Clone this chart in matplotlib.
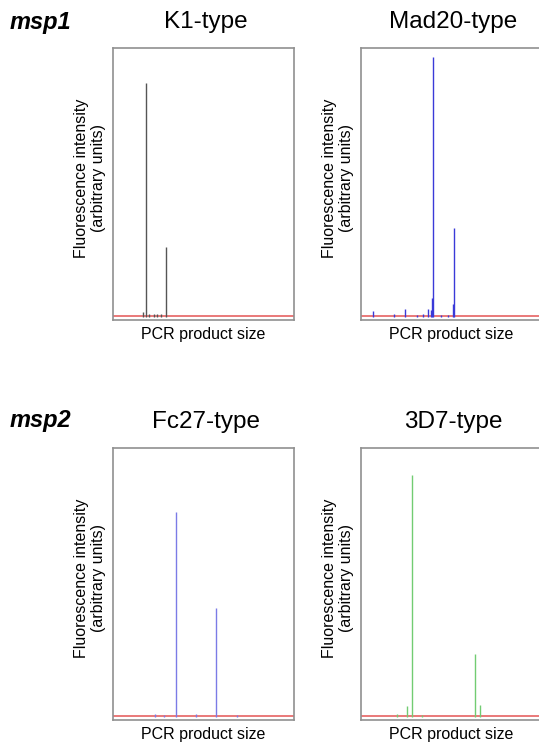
import matplotlib
matplotlib.use("Agg")
import matplotlib.pyplot as plt

plt.rcParams['font.family'] = ['Liberation Sans', 'DejaVu Sans']

W, H = 539, 747

# peak positions (arbitrary size units 0-100) and heights (0-100)
k1_pos = [18.2, 29.3, 16.5, 20.0, 22.5, 24.5, 26.5]
k1_hgt = [87, 26, 2.0, 1.2, 1.0, 1.0, 1.0]

mad20_pos = [39.8, 51.4, 6.6, 18.2, 24.3, 31.0, 34.5, 37.0, 38.5, 39.5, 44.0, 48.0, 51.0]
mad20_hgt = [96.7, 33, 2.2, 1.0, 3.0, 0.8, 1.2, 3.0, 2.5, 7.0, 0.8, 0.6, 5.0]

fc27_pos = [34.8, 56.9, 23.2, 28.0, 45.9, 68.5]
fc27_hgt = [76.3, 40.7, 1.0, 0.8, 1.2, 0.6]

d37_pos = [28.2, 63.0, 19.9, 25.4, 65.7, 33.7]
d37_hgt = [90, 23.3, 1.3, 4.0, 4.4, 0.8]

panels = [
    # left px, top px, title, positions, heights, colour
    (113, 48, 'K1-type', k1_pos, k1_hgt, '#555555'),
    (361, 48, 'Mad20-type', mad20_pos, mad20_hgt, '#3a3ad8'),
    (113, 448, 'Fc27-type', fc27_pos, fc27_hgt, '#7b7be6'),
    (361, 448, '3D7-type', d37_pos, d37_hgt, '#72cc72'),
]
aw, ah = 181, 272

fig = plt.figure(figsize=(W / 100, H / 100), dpi=100)

for left, top, title, pos, hgt, col in panels:
    ax = fig.add_axes([left / W, 1 - (top + ah) / H, aw / W, ah / H])
    ax.axhline(0.3, color='#e03a3a', linewidth=1.2, alpha=0.8, zorder=1)
    ax.vlines(pos, 0, hgt, color=col, linewidth=1.0, zorder=2)
    ax.set_xlim(0, 100)
    ax.set_ylim(-1.1, 100)
    ax.set_xticks([])
    ax.set_yticks([])
    for s in ax.spines.values():
        s.set_color('#909090')
        s.set_linewidth(1.2)
    cx = left + aw / 2
    fig.text((cx + 2) / W, 1 - (top - 26) / H, title, fontsize=17.5,
             ha='center', va='center')
    fig.text(cx / W, 1 - (top + ah + 14) / H, 'PCR product size',
             fontsize=11.5, ha='center', va='center')
    fig.text((left - 23) / W, 1 - (top + ah / 2 - 6) / H,
             'Fluorescence intensity\n(arbitrary units)', fontsize=11.5,
             rotation=90, ha='center', va='center', linespacing=1.2)

fig.text(10 / W, 1 - 22 / H, 'msp1', fontsize=17, fontweight='bold',
         fontstyle='italic', ha='left', va='center')
fig.text(10 / W, 1 - 420 / H, 'msp2', fontsize=17, fontweight='bold',
         fontstyle='italic', ha='left', va='center')

fig.savefig('out.png', dpi=100)
